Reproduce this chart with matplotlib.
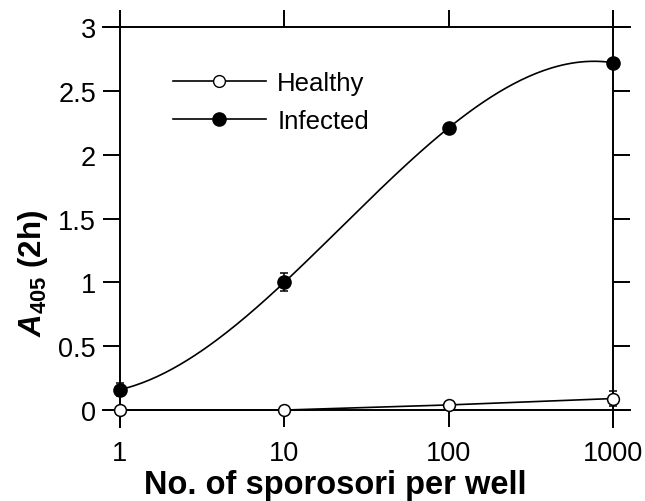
import numpy as np
import matplotlib

matplotlib.use('Agg')
import matplotlib.pyplot as plt

plt.rcParams['font.family'] = ['Liberation Sans', 'DejaVu Sans']
plt.rcParams['mathtext.fontset'] = 'custom'
plt.rcParams['mathtext.rm'] = 'Liberation Sans:bold'
plt.rcParams['mathtext.bf'] = 'Liberation Sans:bold'
plt.rcParams['mathtext.it'] = 'Liberation Sans:bold:italic'

# data
sporosori = [1, 10, 100, 1000]
healthy = [0.0, 0.0, 0.04, 0.09]
healthy_err = [0.01, 0.01, 0.01, 0.06]
infected = [0.16, 1.0, 2.21, 2.72]
infected_err = [0.05, 0.07, 0.02, 0.02]
x_ticks = [1, 10, 100, 1000]
x_ticklabels = ['1', '10', '100', '1000']
y_ticks = [0, 0.5, 1, 1.5, 2, 2.5, 3]
y_ticklabels = ['0', '0.5', '1', '1.5', '2', '2.5', '3']

W, H = 645, 502
fig = plt.figure(figsize=(W / 100, H / 100), dpi=100)
ax = fig.add_axes([103 / W, 1 - 428 / H, 527 / W, 416 / H])
ax.set_xscale('log')
ax.set_xlim(10 ** -0.1034, 10 ** 3.1034)
ax.set_ylim(-17 / 128, 3 + 16 / 128)

# smooth curve through the infected points (cubic in log10 x)
lx = np.log10(sporosori)
coef = np.polyfit(lx, infected, 3)
t = np.linspace(lx[0], lx[-1], 200)
ax.plot(10 ** t, np.polyval(coef, t), color='black', lw=1.2, zorder=3)

ax.plot(sporosori, healthy, color='black', lw=1.2, zorder=3)

ax.errorbar(sporosori, healthy, yerr=healthy_err, fmt='o', ms=8.5, mfc='white',
            mec='black', mew=1.1, ecolor='black', elinewidth=1.1, capsize=3,
            capthick=1.1, zorder=4)
ax.errorbar(sporosori, infected, yerr=infected_err, fmt='o', ms=9.5, mfc='black',
            mec='black', ecolor='black', elinewidth=1.1, capsize=3,
            capthick=1.1, zorder=4)

# legend proxies
ax.plot([], [], color='black', lw=1.2, marker='o', ms=8.5, mfc='white',
        mec='black', label='Healthy')
ax.plot([], [], color='black', lw=1.2, marker='o', ms=9.5, mfc='black',
        label='Infected')
ax.legend(loc='upper left', bbox_to_anchor=(0.133, 0.855), frameon=False,
          fontsize=18.5, handlelength=3.6, handletextpad=0.45, labelspacing=0.55,
          borderaxespad=0, borderpad=0)

# spines sit on the data limits, axes box extends past them
ax.spines['left'].set_position(('data', 1))
ax.spines['right'].set_position(('data', 1000))
ax.spines['bottom'].set_position(('data', 0))
ax.spines['top'].set_position(('data', 3))
for s in ax.spines.values():
    s.set_linewidth(1.4)

ax.set_xticks(x_ticks)
ax.set_xticklabels(x_ticklabels)
ax.set_yticks(y_ticks)
ax.set_yticklabels(y_ticklabels)
ax.minorticks_off()
ax.tick_params(axis='both', which='major', direction='out', length=12.3,
               width=1.4, labelsize=19.5, top=True, right=True)
ax.tick_params(axis='x', pad=9)
ax.tick_params(axis='y', pad=5)

fig.text(335 / W, 1 - 494 / H, 'No. of sporosori per well', fontsize=23.5,
         fontweight='bold', ha='center', va='baseline')
ax.set_ylabel(r'$\mathit{A}_{\mathrm{405}}$ (2h)', fontsize=22.5,
              fontweight='bold')
ax.yaxis.set_label_coords(-0.1, (428 - 274) / 416)

fig.savefig('out.png', dpi=100)
